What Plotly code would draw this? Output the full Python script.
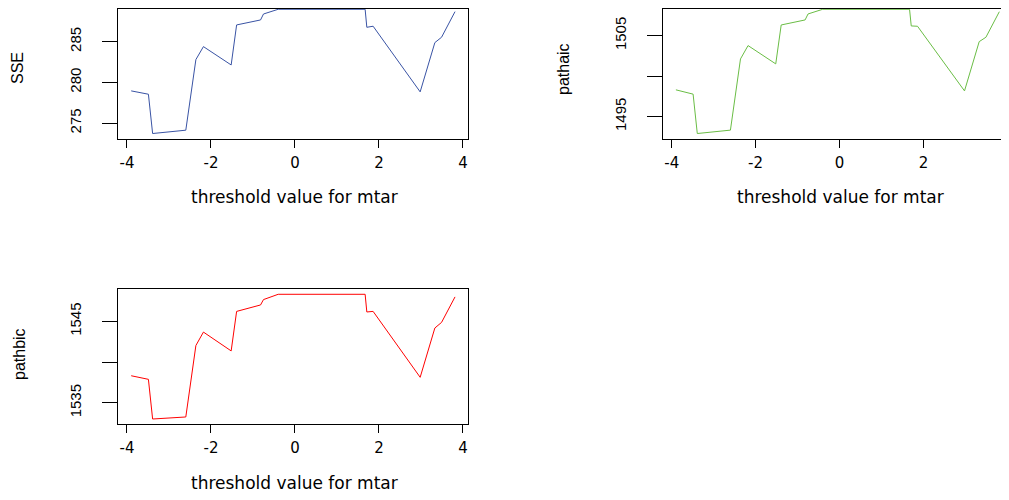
import plotly.graph_objects as go

# ---- data ----
threshold = [-3.90, -3.49, -3.39, -2.60, -2.36, -2.18, -1.52, -1.39, -0.82, -0.75,
             -0.40, 1.67, 1.71, 1.86, 2.98, 3.33, 3.49, 3.81]
sse = [278.96, 278.55, 273.73, 274.14, 282.80, 284.39, 282.14, 287.05, 287.66, 288.39,
       288.97, 288.97, 286.76, 286.89, 278.84, 284.88, 285.54, 288.68]
path_aic = [1498.30, 1497.77, 1492.90, 1493.32, 1502.12, 1503.77, 1501.51, 1506.32, 1506.94,
            1507.68, 1508.26, 1508.26, 1506.20, 1506.16, 1498.17, 1504.26, 1504.80, 1507.96]
path_bic = [1538.33, 1537.89, 1533.02, 1533.27, 1542.04, 1543.69, 1541.38, 1546.23, 1547.02,
            1547.68, 1548.33, 1548.33, 1546.16, 1546.23, 1538.14, 1544.19, 1544.88, 1548.01]

x_ticks = [-4, -2, 0, 2, 4]
x_tick_labels = ["-4", "-2", "0", "2", "4"]
sse_ticks = [275, 280, 285]
sse_tick_labels = ["275", "280", "285"]
aic_ticks = [1495, 1500, 1505]
aic_tick_labels = ["1495", "", "1505"]
bic_ticks = [1535, 1540, 1545]
bic_tick_labels = ["1535", "", "1545"]

x_title = "threshold value for mtar"
y_titles = ["SSE", "pathaic", "pathbic"]
colors = ["#3953A4", "#6ABD45", "#FF0000"]

W, H = 1009, 500
OFF = 8  # page body margin: figure origin sits at (8, 8) in the window
FONT = "Liberation Sans, Arial, sans-serif"
WFONT = "DejaVu Sans, Liberation Sans, sans-serif"


def r_range(v):
    lo, hi = min(v), max(v)
    d = (hi - lo) * 0.04
    return [lo - d, hi + d]


def px_x(a, b):
    return [(a - OFF) / W, (b - OFF) / W]


def fx(x):
    return (x - OFF) / W


def fy(y):
    return (H - (y - OFF)) / H


def y_axis_box(top, bottom, rng):
    """Return (domain, range) keeping the data scale; trim what lies above the visible top."""
    vis_top = OFF + 0.5
    if top < vis_top:
        frac = (bottom - vis_top) / (bottom - top)
        rng = [rng[0], rng[0] + (rng[1] - rng[0]) * frac]
        top = vis_top
    dom = [(H - (bottom - OFF)) / H, (H - (top - OFF)) / H]
    return dom, rng


xr = r_range(threshold)
x1_left = 295 + xr[0] * 42.0
x1_right = 295 + xr[1] * 42.0
x2_left = 839.5 + xr[0] * 41.95
x2_right = 839.5 + xr[1] * 41.95

d1, r1 = y_axis_box(4.3, 138.5, r_range(sse))
d2, r2 = y_axis_box(4.3, 138.5, r_range(path_aic))
d3, r3 = y_axis_box(289.3, 424.0, r_range(path_bic))

fig = go.Figure()
fig.add_trace(go.Scatter(x=threshold, y=sse, mode="lines",
                         line=dict(color=colors[0], width=1), xaxis="x", yaxis="y",
                         showlegend=False))
fig.add_trace(go.Scatter(x=threshold, y=path_aic, mode="lines",
                         line=dict(color=colors[1], width=1), xaxis="x2", yaxis="y2",
                         showlegend=False))
fig.add_trace(go.Scatter(x=threshold, y=path_bic, mode="lines",
                         line=dict(color=colors[2], width=1), xaxis="x3", yaxis="y3",
                         showlegend=False))

xcommon = dict(showline=True, mirror=True, linecolor="black", linewidth=1,
               ticks="outside", ticklen=8, tickwidth=1, tickcolor="black",
               showgrid=False, zeroline=False, tickvals=x_ticks, ticktext=x_tick_labels,
               tickfont=dict(family=WFONT, size=15, color="black"), ticklabelstandoff=2)
ycommon = dict(showline=True, mirror=True, linecolor="black", linewidth=1,
               ticks="outside", ticklen=15, tickwidth=1, tickcolor="black",
               showgrid=False, zeroline=False, tickangle=-90,
               tickfont=dict(family=FONT, size=15, color="black"), ticklabelstandoff=15)

fig.update_layout(
    width=W, height=H,
    margin=dict(l=0, r=0, t=0, b=0),
    paper_bgcolor="white", plot_bgcolor="white",
    xaxis=dict(domain=px_x(x1_left, x1_right), range=xr, anchor="y", **xcommon),
    yaxis=dict(domain=d1, range=r1, anchor="x",
               tickvals=sse_ticks, ticktext=sse_tick_labels, **ycommon),
    xaxis2=dict(domain=px_x(x2_left, x2_right), range=xr, anchor="y2", **xcommon),
    yaxis2=dict(domain=d2, range=r2, anchor="x2",
                tickvals=aic_ticks, ticktext=aic_tick_labels, **ycommon),
    xaxis3=dict(domain=px_x(x1_left, x1_right), range=xr, anchor="y3", **xcommon),
    yaxis3=dict(domain=d3, range=r3, anchor="x3",
                tickvals=bic_ticks, ticktext=bic_tick_labels, **ycommon),
)

ann = []
for cx, cy in [(294, 197), (840, 197), (294, 483)]:
    ann.append(dict(text=x_title, x=fx(cx), y=fy(cy), xref="paper", yref="paper",
                    showarrow=False, xanchor="center", yanchor="middle",
                    font=dict(family=WFONT, size=17, color="black")))
for t, (cx, cy) in zip(y_titles, [(17, 68), (563, 69), (19, 354)]):
    ann.append(dict(text=t, x=fx(cx), y=fy(cy), xref="paper", yref="paper",
                    showarrow=False, xanchor="center", yanchor="middle", textangle=-90,
                    font=dict(family=FONT, size=16, color="black")))
fig.update_layout(annotations=ann)

fig.write_html("out.html")
